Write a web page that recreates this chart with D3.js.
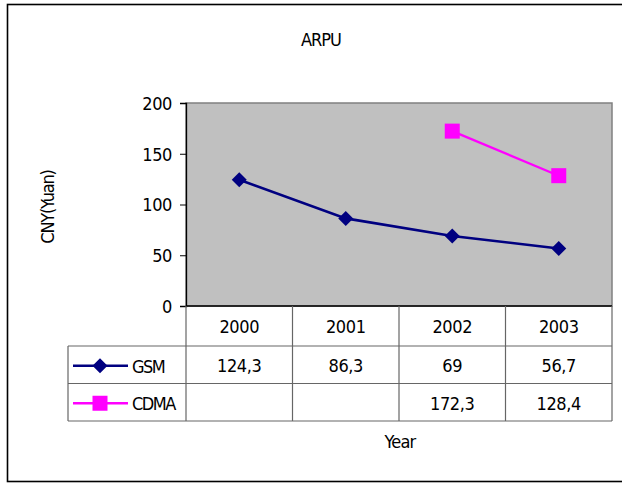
<!DOCTYPE html>
<html>
<head>
<meta charset="utf-8">
<script src="https://cdn.jsdelivr.net/npm/d3@7"></script>
<style>
  html, body { margin: 0; padding: 0; background: #fff; }
  svg { display: block; }
  text { font-family: "DejaVu Sans Condensed", "Liberation Sans", Arial, sans-serif; fill: #000; }
</style>
</head>
<body>
<svg id="chart" width="622" height="484"></svg>
<script>
// ARPU by year, CNY (Yuan)
const years = ["2000", "2001", "2002", "2003"];
const gsmValues = [124.3, 86.3, 69, 56.7];
const cdmaValues = [null, null, 172.3, 128.4];
const yTicks = [0, 50, 100, 150, 200];

const series = [
  { name: "GSM", values: gsmValues, color: "#000080", marker: "diamond" },
  { name: "CDMA", values: cdmaValues, color: "#FF00FF", marker: "square" }
];

const svg = d3.select("#chart");
const fontSize = 18;
const fontFamily = '"DejaVu Sans Condensed", "Liberation Sans", Arial, sans-serif';

// layout
const plot = { left: 186, right: 612, top: 103, bottom: 306 };
const table = { left: 68, headerBottom: 346, rowHeight: 37.5 };

const x = d3.scaleBand().domain(years).range([plot.left, plot.right]);
const y = d3.scaleLinear().domain([0, 200]).range([plot.bottom, plot.top]);

const commaFormat = d3.formatLocale({ decimal: ",", thousands: " ", grouping: [3], currency: ["", ""] }).format("");

// outer chart frame
svg.append("rect")
  .attr("x", 7.5).attr("y", 4.5)
  .attr("width", 640).attr("height", 477)
  .attr("fill", "none").attr("stroke", "#000").attr("stroke-width", 1.6);

// title
svg.append("text")
  .attr("x", 321).attr("y", 46)
  .attr("text-anchor", "middle")
  .attr("font-size", fontSize)
  .attr("letter-spacing", "-1")
  .text("ARPU");

// plot area background
svg.append("rect")
  .attr("x", plot.left).attr("y", plot.top)
  .attr("width", plot.right - plot.left).attr("height", plot.bottom - plot.top)
  .attr("fill", "#C0C0C0")
  .attr("stroke", "#808080").attr("stroke-width", 1.5);

// y axis
const yAxis = svg.append("g")
  .attr("transform", `translate(${plot.left},0)`)
  .call(d3.axisLeft(y).tickValues(yTicks).tickSize(6).tickPadding(8).tickFormat(d3.format("d")));
yAxis.select(".domain").attr("stroke", "#000").attr("stroke-width", 1.3);
yAxis.selectAll(".tick line").attr("stroke", "#000");
yAxis.selectAll(".tick text")
  .attr("font-size", fontSize)
  .attr("font-family", fontFamily)
  .attr("letter-spacing", "-0.4")
  .attr("dy", "0.36em");

// bottom axis line
svg.append("line")
  .attr("x1", plot.left).attr("x2", plot.right)
  .attr("y1", plot.bottom).attr("y2", plot.bottom)
  .attr("stroke", "#000").attr("stroke-width", 1.3);

// y axis title
svg.append("text")
  .attr("transform", `translate(54,207) rotate(-90)`)
  .attr("text-anchor", "middle")
  .attr("font-size", fontSize)
  .attr("letter-spacing", "-1.2")
  .text("CNY(Yuan)");

// marker drawing
function drawMarker(g, kind, cx, cy, color) {
  if (kind === "diamond") {
    const r = 7.5;
    g.append("path")
      .attr("d", `M${cx},${cy - r}L${cx + r},${cy}L${cx},${cy + r}L${cx - r},${cy}Z`)
      .attr("fill", color);
  } else {
    const s = 15;
    g.append("rect")
      .attr("x", cx - s / 2).attr("y", cy - s / 2)
      .attr("width", s).attr("height", s)
      .attr("fill", color);
  }
}

// series lines and markers
const marks = svg.append("g");
series.forEach(s => {
  const pts = years.map((yr, i) => ({ yr, v: s.values[i] })).filter(d => d.v != null);
  const line = d3.line()
    .x(d => x(d.yr) + x.bandwidth() / 2)
    .y(d => y(d.v));
  marks.append("path")
    .attr("d", line(pts))
    .attr("fill", "none")
    .attr("stroke", s.color)
    .attr("stroke-width", s.marker === "diamond" ? 2.6 : 2.2);
  pts.forEach(d => drawMarker(marks, s.marker, x(d.yr) + x.bandwidth() / 2, y(d.v), s.color));
});

// data table
const grid = svg.append("g").attr("stroke", "#666").attr("stroke-width", 1.2);
const rowsBottom = table.headerBottom + table.rowHeight * series.length;
// horizontal rules
grid.append("line").attr("x1", table.left).attr("x2", plot.right)
  .attr("y1", table.headerBottom).attr("y2", table.headerBottom);
series.forEach((s, i) => {
  const yy = table.headerBottom + table.rowHeight * (i + 1);
  grid.append("line").attr("x1", table.left).attr("x2", plot.right).attr("y1", yy).attr("y2", yy);
});
// vertical rules
grid.append("line").attr("x1", table.left).attr("x2", table.left)
  .attr("y1", table.headerBottom).attr("y2", rowsBottom);
years.forEach(yr => {
  grid.append("line").attr("x1", x(yr)).attr("x2", x(yr))
    .attr("y1", plot.bottom).attr("y2", rowsBottom);
});
grid.append("line").attr("x1", plot.right).attr("x2", plot.right)
  .attr("y1", plot.bottom).attr("y2", rowsBottom);

// header: years
svg.append("g").selectAll("text").data(years).join("text")
  .attr("x", d => x(d) + x.bandwidth() / 2)
  .attr("y", (plot.bottom + table.headerBottom) / 2 + 7)
  .attr("text-anchor", "middle")
  .attr("font-size", fontSize)
  .attr("letter-spacing", "-0.4")
  .text(d => d);

// rows: legend keys and values
series.forEach((s, i) => {
  const cy = table.headerBottom + table.rowHeight * i + table.rowHeight / 2;
  const key = svg.append("g");
  key.append("line")
    .attr("x1", 73).attr("x2", 128).attr("y1", cy + 1).attr("y2", cy + 1)
    .attr("stroke", s.color).attr("stroke-width", 2.4);
  drawMarker(key, s.marker, 100, cy + 1, s.color);
  key.append("text")
    .attr("x", 132).attr("y", cy + 8)
    .attr("font-size", fontSize)
    .attr("letter-spacing", "-1.5")
    .text(s.name);

  svg.append("g").selectAll("text").data(years.map((yr, j) => ({ yr, v: s.values[j] })).filter(d => d.v != null))
    .join("text")
    .attr("x", d => x(d.yr) + x.bandwidth() / 2)
    .attr("y", cy + 7.5)
    .attr("text-anchor", "middle")
    .attr("font-size", fontSize)
    .attr("letter-spacing", "-0.4")
    .text(d => commaFormat(d.v));
});

// x axis title
svg.append("text")
  .attr("x", 400).attr("y", 448)
  .attr("text-anchor", "middle")
  .attr("font-size", fontSize)
  .attr("letter-spacing", "-0.8")
  .text("Year");
</script>
</body>
</html>
